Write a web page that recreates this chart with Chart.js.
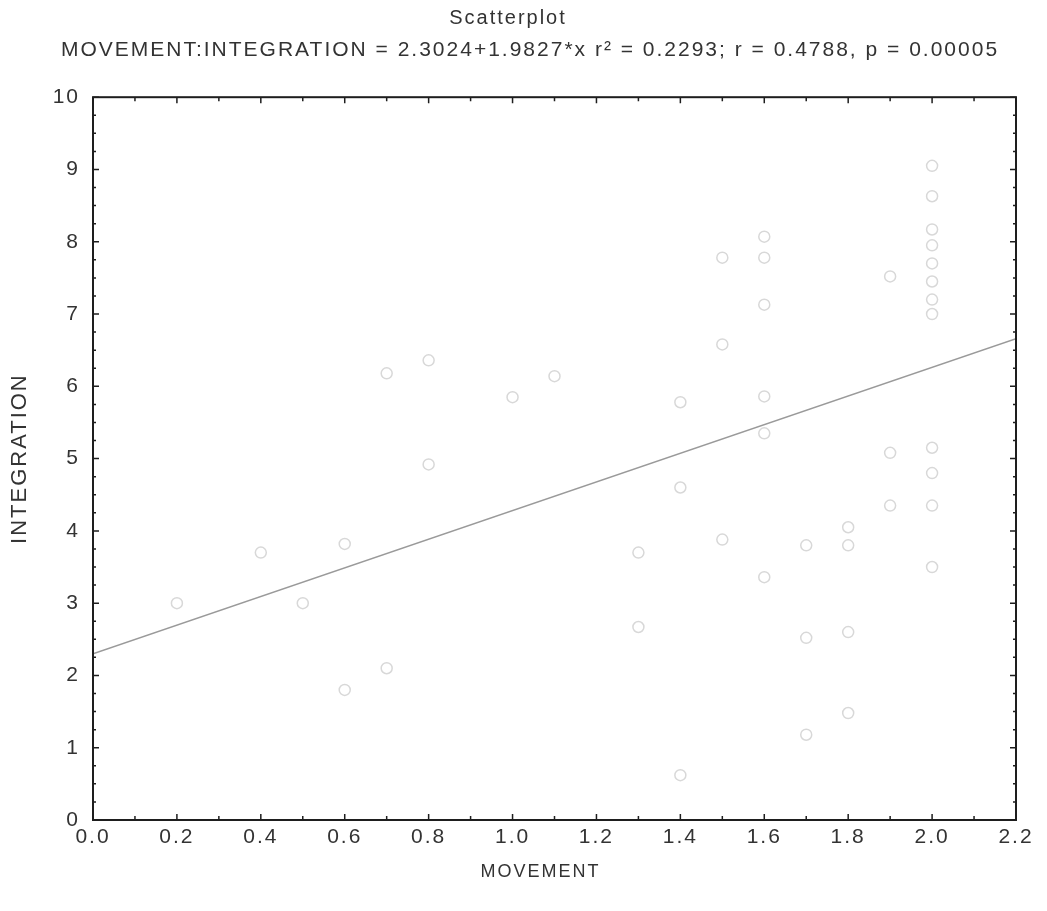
<!DOCTYPE html>
<html>
<head>
<meta charset="utf-8">
<script src="https://cdn.jsdelivr.net/npm/chart.js@4/dist/chart.umd.min.js"></script>
<style>
  html, body { margin: 0; padding: 0; background: #fff; }
  #wrap { width: 1047px; height: 911px; }
</style>
</head>
<body>
<div id="wrap"><canvas id="scatter"></canvas></div>
<script>
// values
const movement = [0.2, 0.4, 0.5, 0.6, 0.6, 0.7, 0.7, 0.8, 0.8, 1.0, 1.1,
  1.3, 1.3, 1.4, 1.4, 1.4, 1.5, 1.5, 1.5,
  1.6, 1.6, 1.6, 1.6, 1.6, 1.6,
  1.7, 1.7, 1.7, 1.8, 1.8, 1.8, 1.8,
  1.9, 1.9, 1.9,
  2.0, 2.0, 2.0, 2.0, 2.0, 2.0, 2.0, 2.0, 2.0, 2.0, 2.0, 2.0];
const integration = [3.0, 3.7, 3.0, 3.82, 1.8, 2.1, 6.18, 6.36, 4.92, 5.85, 6.14,
  3.7, 2.67, 5.78, 4.6, 0.62, 7.78, 6.58, 3.88,
  8.07, 7.78, 7.13, 5.86, 5.35, 3.36,
  3.8, 2.52, 1.18, 4.05, 3.8, 2.6, 1.48,
  7.52, 5.08, 4.35,
  9.05, 8.63, 8.17, 7.95, 7.7, 7.45, 7.2, 7.0, 5.15, 4.8, 4.35, 3.5];

// fitted line end points (2.3024 + 1.9827*x)
const fitX = [0, 2.2];
const fitY = [2.30, 6.66];

const xTicks = [0, 0.2, 0.4, 0.6, 0.8, 1.0, 1.2, 1.4, 1.6, 1.8, 2.0, 2.2];
const xMinor = [0.1, 0.3, 0.5, 0.7, 0.9, 1.1, 1.3, 1.5, 1.7, 1.9, 2.1];
const yTicks = [0, 1, 2, 3, 4, 5, 6, 7, 8, 9, 10];

const points = movement.map((x, i) => ({ x: x, y: integration[i] }));
const fitLine = fitX.map((x, i) => ({ x: x, y: fitY[i] }));

const textColor = '#333';
const fontFamily = '"Liberation Sans", Arial, sans-serif';
const subtitleText = 'MOVEMENT:INTEGRATION = 2.3024+1.9827*x r\u00b2 = 0.2293; r = 0.4788, p = 0.00005';

// the scanned text is spaced out a bit
const spacing = {
  id: 'spacing',
  beforeUpdate(chart) { chart.ctx.letterSpacing = '2px'; },
  beforeLayout(chart) { chart.ctx.letterSpacing = '2px'; },
  beforeDraw(chart) { chart.ctx.letterSpacing = '2px'; }
};

// box around the plot with inward ticks on all four sides
const frameTicks = {
  id: 'frameTicks',
  afterDraw(chart) {
    const ctx = chart.ctx;
    const a = chart.chartArea;
    const xs = chart.scales.x, ys = chart.scales.y;
    ctx.save();
    ctx.strokeStyle = '#1e1e1e';
    ctx.lineWidth = 2;
    ctx.strokeRect(a.left, a.top, a.right - a.left, a.bottom - a.top);
    ctx.lineWidth = 1.5;
    ctx.beginPath();
    const tickX = (v, len) => {
      const p = xs.getPixelForValue(v);
      ctx.moveTo(p, a.bottom); ctx.lineTo(p, a.bottom - len);
      ctx.moveTo(p, a.top); ctx.lineTo(p, a.top + len);
    };
    const tickY = (v, len) => {
      const p = ys.getPixelForValue(v);
      ctx.moveTo(a.left, p); ctx.lineTo(a.left + len, p);
      ctx.moveTo(a.right, p); ctx.lineTo(a.right - len, p);
    };
    xTicks.forEach(v => tickX(v, 6));
    xMinor.forEach(v => tickX(v, 4));
    yTicks.forEach(v => tickY(v, 6));
    for (let v = 0.25; v < 10; v += 0.25) {
      if (v % 1 !== 0) tickY(v, 3);
    }
    ctx.stroke();
    ctx.restore();
  }
};

const chart = new Chart(document.getElementById('scatter'), {
  type: 'scatter',
  data: {
    datasets: [
      {
        label: 'points',
        data: points,
        pointStyle: 'circle',
        pointRadius: 5.5,
        pointBorderWidth: 1.5,
        borderColor: '#d8d8d8',
        backgroundColor: 'rgba(255,255,255,0)'
      },
      {
        label: 'fit',
        type: 'line',
        data: fitLine,
        borderColor: '#9a9a9a',
        borderWidth: 1.5,
        pointRadius: 0,
        fill: false
      }
    ]
  },
  plugins: [spacing, frameTicks],
  options: {
    responsive: true,
    maintainAspectRatio: false,
    animation: false,
    layout: { padding: { left: 0, right: 31, top: 0, bottom: 0 } },
    plugins: {
      legend: { display: false },
      tooltip: { enabled: false },
      title: {
        display: true,
        text: 'Scatterplot',
        color: textColor,
        font: { family: fontFamily, size: 20, weight: 'normal' },
        padding: { top: 6, bottom: 4 }
      },
      subtitle: {
        display: true,
        text: subtitleText,
        color: textColor,
        font: { family: fontFamily, size: 21, weight: 'normal' },
        padding: { top: 4, bottom: 34 }
      }
    },
    scales: {
      x: {
        type: 'linear',
        min: 0,
        max: 2.2,
        afterBuildTicks: s => { s.ticks = xTicks.map(v => ({ value: v })); },
        afterFit: s => { s.height = 91; },
        grid: { display: false },
        border: { display: false },
        ticks: {
          color: textColor,
          font: { family: fontFamily, size: 21 },
          padding: -3,
          maxRotation: 0,
          callback: v => v.toFixed(1)
        },
        title: {
          display: true,
          text: 'MOVEMENT',
          color: textColor,
          font: { family: fontFamily, size: 18 },
          padding: { top: 4, bottom: 28 }
        }
      },
      y: {
        type: 'linear',
        min: 0,
        max: 10,
        afterBuildTicks: s => { s.ticks = yTicks.map(v => ({ value: v })); },
        afterFit: s => { s.width = 93; },
        grid: { display: false },
        border: { display: false },
        ticks: {
          color: textColor,
          font: { family: fontFamily, size: 21 },
          padding: 5
        },
        title: {
          display: true,
          text: 'INTEGRATION',
          color: textColor,
          font: { family: fontFamily, size: 22 },
          padding: { top: 7, bottom: 4 }
        }
      }
    }
  }
});

// small offsets seen in the original: equation line to the right, x title to the left
const nudge = (obj, key, dx) => {
  const orig = obj[key].bind(obj);
  obj[key] = (...args) => {
    chart.ctx.save();
    chart.ctx.translate(dx, 0);
    orig(...args);
    chart.ctx.restore();
  };
};
chart.boxes.forEach(box => {
  if (box.options && box.options.text === subtitleText) nudge(box, 'draw', 22);
});
nudge(chart.scales.x, 'drawTitle', -14);
chart.draw();
</script>
</body>
</html>
